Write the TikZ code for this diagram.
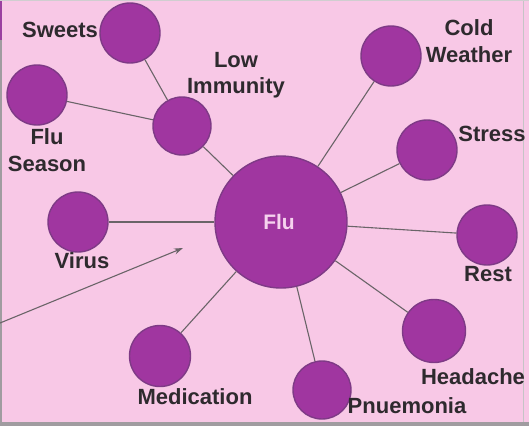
\documentclass[tikz,border=0pt]{standalone}
\usepackage{fontspec}
\setmainfont{Liberation Sans}
\usetikzlibrary{arrows.meta}
\definecolor{bgpink}{HTML}{F8C8E6}
\definecolor{bubble}{HTML}{A036A0}
\definecolor{bubbleedge}{HTML}{7E3A86}
\definecolor{linkgray}{HTML}{6A6468}
\definecolor{labelgray}{HTML}{2E2A2E}
\definecolor{flutext}{HTML}{F6D2EE}
\definecolor{framegray}{HTML}{A09CA0}
\definecolor{stripviolet}{HTML}{9A40A0}
\tikzset{
  bub/.style={circle, fill=bubble, draw=bubbleedge, line width=1.4pt, inner sep=0pt, minimum size=60pt},
  lbl/.style={font=\bfseries\fontsize{22}{26.5}\selectfont, text=labelgray, align=center, inner sep=0pt},
  link/.style={draw=linkgray, line width=1.1pt}
}
\begin{document}
\begin{tikzpicture}[x=1pt,y=-1pt]
\useasboundingbox (0,0) rectangle (529,426);
\fill[bgpink] (0,0) rectangle (529,426);
\fill[framegray] (0,422) rectangle (529,426);
\fill[framegray] (0,40) rectangle (2,426);
\fill[stripviolet] (0,0) rectangle (2,40);
\draw[framegray!60, line width=0.8pt] (523.5,0) -- (523.5,422);
\draw[framegray!50, line width=0.6pt] (0,0.3) -- (529,0.3);

% bubbles
\node[bub, minimum size=132pt] (flu) at (281,222) {};
\node[font=\bfseries\fontsize{21}{24}\selectfont, text=flutext] (flut) at (279,222) {Flu};
\node[bub] (sweets) at (130,33) {};
\node[bub] (season) at (37,95) {};
\node[bub, minimum size=58pt] (immun) at (182,126) {};
\node[bub] (cold) at (391,56) {};
\node[bub] (stress) at (427,150) {};
\node[bub] (virus) at (78,222) {};
\node[bub, minimum size=61pt] (medic) at (160,356) {};
\node[bub] (rest) at (487,235) {};
\node[bub, minimum size=63pt] (head) at (434,331) {};
\node[bub, minimum size=58pt] (pneu) at (322,390) {};

% labels
\node[lbl] (lsweets) at (60,30) {Sweets};
\node[lbl] (limmun) at (236,75) {Low\\Immunity};
\node[lbl] (lseason) at (47,150) {Flu\\Season};
\node[lbl] (lcold) at (469,41) {Cold\\Weather};
\node[lbl] (lstress) at (492,134) {Stress};
\node[lbl] (lvirus) at (82,261) {Virus};
\node[lbl] (lmedic) at (195,397) {Medication};
\node[lbl] (lrest) at (488,274) {Rest};
\node[lbl] (lhead) at (473,377) {Headache};
\node[lbl] (lpneu) at (407,406) {Pnuemonia};

% connectors
\path[link] (sweets) -- (immun);
\path[link] (season) -- (immun);
\path[link] (immun) -- (flu);
\path[link] (virus.east) -- (flu.west);
\path[link] (cold) -- (flu);
\path[link] (stress) -- (flu);
\path[link] (rest) -- (flu);
\path[link] (head) -- (flu);
\path[link] (pneu) -- (flu);
\path[link] (medic) -- (flu);

\coordinate (astart) at (0,323);
\coordinate (aend) at (183,248);
\draw[draw=linkgray, line width=1.1pt, -{Stealth[length=9pt,width=6pt]}] (astart) -- (aend);
\end{tikzpicture}
\end{document}
